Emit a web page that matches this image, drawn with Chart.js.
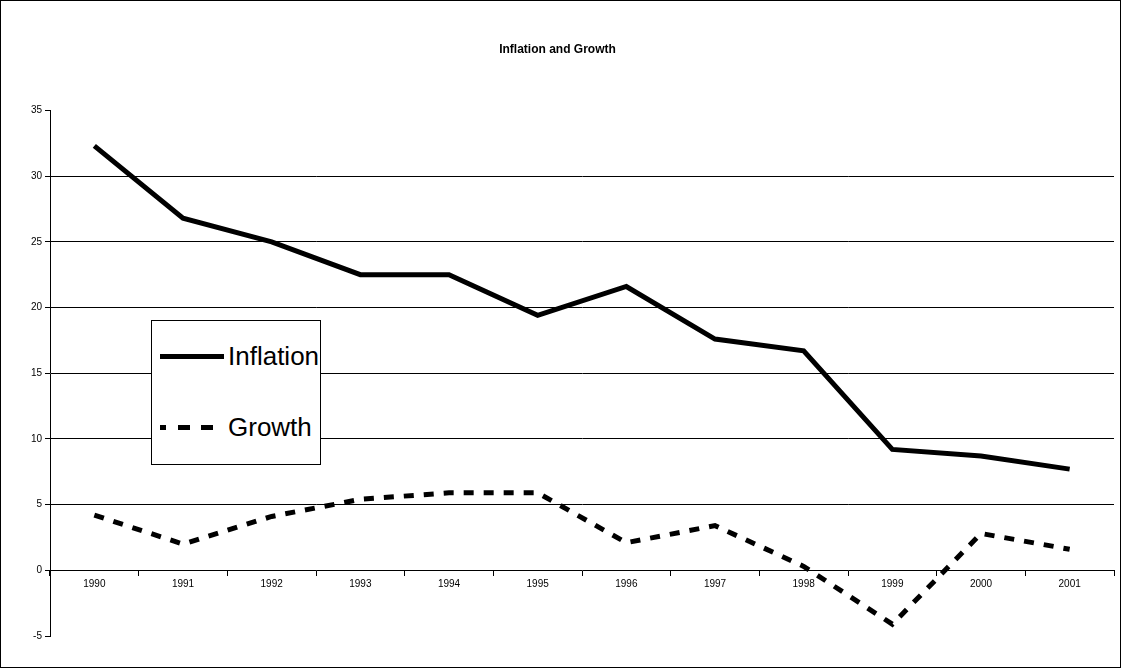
<!DOCTYPE html><html><head><script src="https://cdn.jsdelivr.net/npm/chart.js@4"></script>
<style>body{margin:0;background:#fff}#w{position:relative;width:1119px;height:666px;border:1px solid #000}
#lg{position:absolute;left:150px;top:319px;width:168px;height:143px;border:1px solid #000;background:#fff;font-family:Arial,"Liberation Sans";font-size:26px}
.r{position:absolute;left:8px;display:flex;align-items:center}.r span{display:inline-block;width:64px;margin-right:4px}</style></head><body>
<div id="w"><canvas id="c" width="1119" height="666"></canvas>
<div id="lg"><div class="r" style="top:20px"><span style="border-top:5px solid #000"></span>Inflation</div>
<div class="r" style="top:91px"><span style="border-top:5px dashed #000;border-image:repeating-linear-gradient(90deg,#000 0 10px,transparent 10px 20px) 5"></span>Growth</div></div></div>
<script>
const years=['1990','1991','1992','1993','1994','1995','1996','1997','1998','1999','2000','2001'];
const inflation=[32.3,26.8,25.0,22.5,22.5,19.4,21.6,17.6,16.7,9.2,8.7,7.7];
const growth=[4.2,2.0,4.1,5.4,5.9,5.9,2.1,3.4,0.3,-4.1,2.8,1.6];
const F='Arial, "Liberation Sans"';
new Chart(document.getElementById('c'),{type:'line',data:{labels:years,datasets:[
{label:'Inflation',data:inflation,borderColor:'#000',borderWidth:5,pointRadius:0,tension:0},
{label:'Growth',data:growth,borderColor:'#000',borderWidth:5,borderDash:[10,10],pointRadius:0,tension:0}]},
options:{responsive:false,animation:false,layout:{padding:{left:0,right:6,top:20,bottom:31}},
plugins:{legend:{display:false},title:{display:true,text:'Inflation and Growth',color:'#000',font:{family:F,size:12,weight:'bold'},padding:{top:21,bottom:54}}},
scales:{x:{position:{y:0},offset:true,grid:{offset:true,drawOnChartArea:false,color:'#000',tickLength:5},border:{color:'#000'},ticks:{color:'#000',font:{family:F,size:10},maxRotation:0}},
y:{min:-5,max:35,afterFit:s=>{s.width=49},ticks:{stepSize:5,color:'#000',font:{family:F,size:10}},grid:{color:c=>(c.tick&&(c.tick.value===35||c.tick.value===-5||c.tick.value===0))?'rgba(0,0,0,0)':'#000',tickColor:'#000',tickLength:5},border:{color:'#000'}}}}});
</script></body></html>
